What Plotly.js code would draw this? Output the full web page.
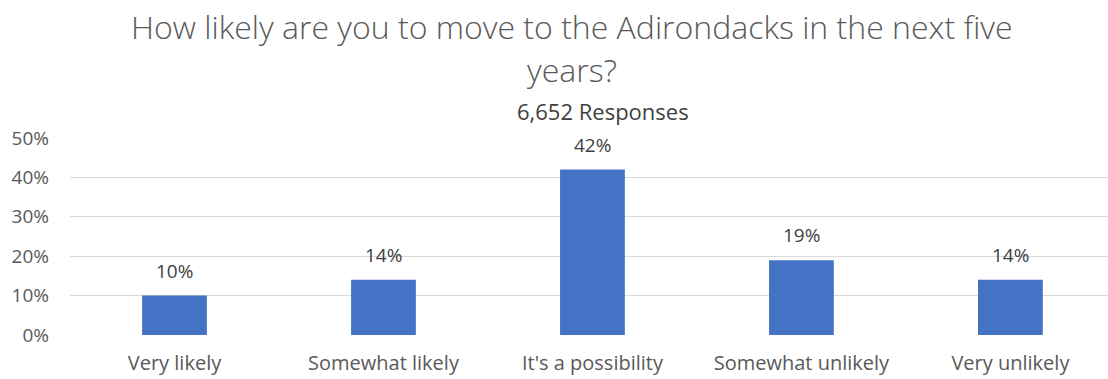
<!DOCTYPE html>
<html>
<head>
<meta charset="utf-8">
<script src="https://cdn.plot.ly/plotly-3.0.1.min.js"></script>
<style>html,body{margin:0;padding:0;background:#fff;overflow:hidden}</style>
</head>
<body>
<div id="chart" style="width:1108px;height:379px"></div>
<script>
const categories = ["Very likely", "Somewhat likely", "It's a possibility", "Somewhat unlikely", "Very unlikely"];
const values = [10, 14, 42, 19, 14];
const labels = ["10%", "14%", "42%", "19%", "14%"];
const yTickVals = [0, 10, 20, 30, 40, 50];
const yTickText = ["0%", "10%", "20%", "30%", "40%", "50%"];
const titleLine1 = "How likely are you to move to the Adirondacks in the next five";
const titleLine2 = "years?";
const subtitle = "6,652 Responses";

const FONT = "Open Sans, Noto Sans, sans-serif";

const trace = {
  type: 'bar',
  x: categories,
  y: values,
  marker: {color: '#4472C4'},
  width: 0.31,
  hoverinfo: 'none'
};

const annotations = categories.map((c, i) => ({
  x: c, y: values[i], xref: 'x', yref: 'y',
  text: labels[i], showarrow: false, yanchor: 'bottom', yshift: 10,
  font: {family: FONT, size: 19, color: '#404040'}
}));
annotations.push({
  xref: 'paper', yref: 'paper', x: 0.4835, y: 1, yshift: 112,
  text: titleLine1, showarrow: false, xanchor: 'center', yanchor: 'middle',
  font: {family: FONT, size: 32, color: '#595959', weight: 300}
});
annotations.push({
  xref: 'paper', yref: 'paper', x: 0.4835, y: 1, yshift: 69,
  text: titleLine2, showarrow: false, xanchor: 'center', yanchor: 'middle',
  font: {family: FONT, size: 32, color: '#595959', weight: 300}
});
annotations.push({
  xref: 'paper', yref: 'paper', x: 0.5135, y: 1, yshift: 27,
  text: subtitle, showarrow: false, xanchor: 'center', yanchor: 'middle',
  font: {family: FONT, size: 22, color: '#404040'}
});

const layout = {
  width: 1108, height: 379,
  margin: {l: 70, r: 0, t: 138, b: 44},
  paper_bgcolor: '#fff', plot_bgcolor: '#fff',
  showlegend: false,
  xaxis: {
    type: 'category', range: [-0.5, 4.467],
    showgrid: false, zeroline: false, showline: false, ticks: '',
    tickfont: {family: FONT, size: 20, color: '#595959'},
    ticklabelstandoff: 14
  },
  yaxis: {
    range: [0, 50], tickmode: 'array', tickvals: yTickVals, ticktext: yTickText,
    showgrid: true, gridcolor: '#d9d9d9', gridwidth: 1,
    zeroline: false, showline: false, ticks: '',
    tickfont: {family: FONT, size: 19, color: '#595959'},
    ticklabelstandoff: 20
  },
  annotations: annotations
};

Plotly.newPlot('chart', [trace], layout, {displayModeBar: false, staticPlot: true});
</script>
</body>
</html>
